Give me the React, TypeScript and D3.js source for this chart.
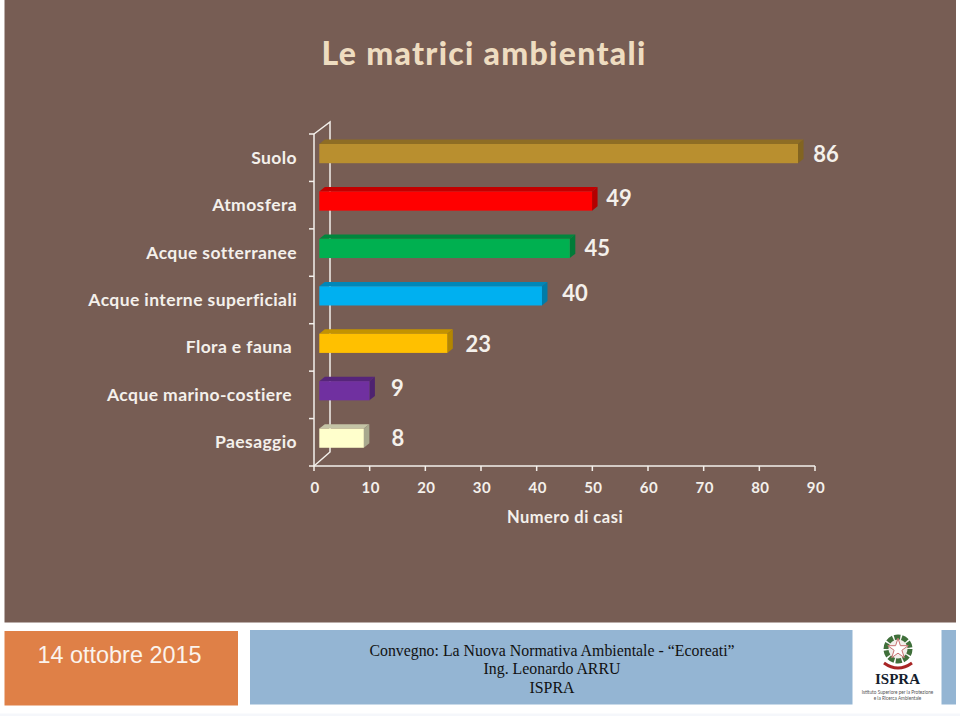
import React from "react";
import * as d3 from "d3";

const categories = ["Suolo", "Atmosfera", "Acque sotterranee", "Acque interne superficiali", "Flora e fauna", "Acque marino-costiere", "Paesaggio"];
const values = [86, 49, 45, 40, 23, 9, 8];
const frontColors = ["#B98F2F", "#FF0000", "#00B050", "#00B0F0", "#FFC000", "#7030A0", "#FFFFCC"];
const labelShift = [0, 0, 0, 0, -5, -5, 0];
const valueNudgeX = [28, 27, 27.5, 33, 31, 28, 34];
const valueNudgeY = [17.5, 14.5, 17, 15, 18.5, 15, 17.5];
const valueTicks = [0, 10, 20, 30, 40, 50, 60, 70, 80, 90];
const footerLines = ["Convegno: La Nuova Normativa Ambientale - “Ecoreati”", "Ing. Leonardo ARRU", "ISPRA"];

const W = 960, H = 716;
const x = d3.scaleLinear().domain([0, 90]).range([314, 815]);
const y = d3.scaleBand().domain(categories).range([134, 466]);
const DX = 5.5, DY = 4.4, BAR_H = 19.2;
const sans = "'Lato', sans-serif";
const ink = "#F4F0EB";

export default function App() {
  const bottom = y.range()[1], top = y.range()[0];
  return (
    <svg width={W} height={H} viewBox={`0 0 ${W} ${H}`} style={{ position: "absolute", left: 0, top: 0, background: "#fff" }}>
      <rect x={4.5} y={0} width={951.5} height={622.5} fill="#775D54" />
      <rect x={0} y={713.5} width={W} height={2.5} fill="#F5F7FB" />
      <text x={484} y={65} textAnchor="middle" fontFamily={sans} fontWeight={900} fontSize={32} letterSpacing={1.3} fill="#EEDCC0">Le matrici ambientali</text>

      {/* walls */}
      <g fill="none" stroke={ink} strokeWidth={1.5}>
        <path d={`M${x(0)},${top}L${x(0) + 16},${top - 12}V${bottom - 14}L${x(0)},${bottom}`} />
        <path d={`M${x(0)},${top}V${bottom}H${x(90)}`} />
        {[...categories.map(c => y(c)!), bottom].map((t, i) => <path key={i} d={`M${x(0) - 5},${t}H${x(0)}`} />)}
        {valueTicks.map(t => <path key={t} d={`M${x(t)},${bottom}V${bottom + 5}`} />)}
      </g>

      {/* bars */}
      {categories.map((c, i) => {
        const x0 = x(0) + 5.3;
        const x1 = x0 + (x(values[i]) - x(0));
        const yt = y(c)! + 10;
        const front = d3.color(frontColors[i])!;
        const dark = i === 6 ? "#C4C4A6" : front.darker(0.75).formatHex();
        const darker = i === 6 ? "#A8A88E" : front.darker(1).formatHex();
        return (
          <g key={c}>
            <path d={`M${x0},${yt}L${x0 + DX},${yt - DY}H${x1 + DX}L${x1},${yt}Z`} fill={dark} />
            <path d={`M${x1},${yt}L${x1 + DX},${yt - DY}V${yt + BAR_H - DY}L${x1},${yt + BAR_H}Z`} fill={darker} />
            <rect x={x0} y={yt} width={x1 - x0} height={BAR_H} fill={frontColors[i]} />
            <text x={x1 + valueNudgeX[i]} y={yt + valueNudgeY[i]} fontFamily={sans} fontWeight={700} fontSize={22} fill={ink} textAnchor="middle">{values[i]}</text>
            <text x={297 + labelShift[i]} y={yt + 19.7} textAnchor="end" fontFamily={sans} fontWeight={700} fontSize={17.5} letterSpacing={0.4} fill={ink}>{c}</text>
          </g>
        );
      })}

      {valueTicks.map(t => (
        <text key={t} x={x(t) + 1} y={492.5} textAnchor="middle" fontFamily={sans} fontWeight={700} fontSize={15} letterSpacing={0.5} fill={ink}>{t}</text>
      ))}
      <text x={565} y={523} textAnchor="middle" fontFamily={sans} fontWeight={700} fontSize={16.5} letterSpacing={0.5} fill={ink}>Numero di casi</text>

      {/* footer */}
      <rect x={4.5} y={631} width={233.5} height={74.5} fill="#DF8047" />
      <text x={119.5} y={662.5} textAnchor="middle" fontFamily="'Liberation Sans', Arial, sans-serif" fontSize={23.4} fill="#FBF3EC">14 ottobre 2015</text>
      <rect x={250} y={630} width={602.5} height={74.5} fill="#94B5D3" />
      <rect x={941.5} y={630} width={14.5} height={74.5} fill="#94B5D3" />
      {footerLines.map((l, i) => (
        <text key={l} x={552} y={655.7 + i * 18.7} textAnchor="middle" fontFamily="'Liberation Serif', serif" fontSize={15.85} fill="#111">{l}</text>
      ))}
      {/* logo */}
      <g>
        <circle cx={898} cy={649} r={12} fill="#F1EEEA" stroke="#3F6F3A" strokeWidth={5} strokeDasharray="6 1.5" />
        <path d={d3.symbol().type(d3.symbolStar).size(130)()!} transform="translate(898,649)" fill="#fff" stroke="#C77070" strokeWidth={1} />
        <path d="M884,663Q898,673 912,663" fill="none" stroke="#A82525" strokeWidth={3} />
        <text x={897.5} y={684} textAnchor="middle" fontFamily="'Liberation Serif', serif" fontWeight={700} fontSize={15} fill="#14202E">ISPRA</text>
        <text x={897.5} y={694} textAnchor="middle" fontFamily={sans} fontSize={4.7} fill="#555">Istituto Superiore per la Protezione</text>
        <text x={897.5} y={700} textAnchor="middle" fontFamily={sans} fontSize={4.7} fill="#555">e la Ricerca Ambientale</text>
      </g>
    </svg>
  );
}
